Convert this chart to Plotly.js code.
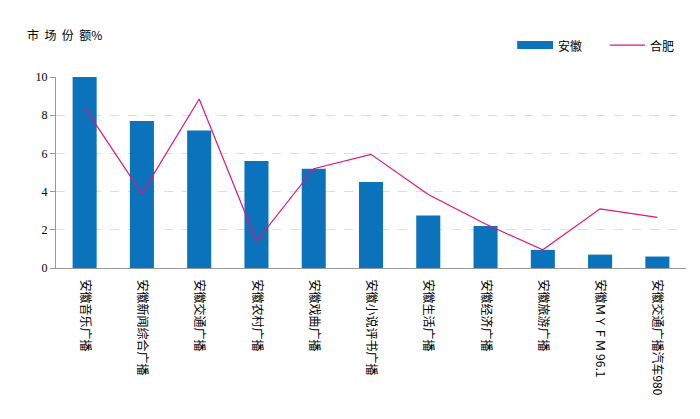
<!DOCTYPE html><html><head><meta charset="utf-8"><script src="https://cdn.plot.ly/plotly-3.0.1.min.js"></script></head><body style="margin:0"><div id="c" style="width:700px;height:419px"></div><script>
const categories=["安徽音乐广播","安徽新闻综合广播","安徽交通广播","安徽农村广播","安徽戏曲广播","安徽小说评书广播","安徽生活广播","安徽经济广播","安徽旅游广播","安徽ＭＹＦＭ 96.1","安徽交通广播汽车980"];
const anhui=[10,7.7,7.2,5.6,5.2,4.5,2.75,2.2,0.95,0.7,0.6];
const hefei=[8.4,3.9,8.85,1.4,5.2,5.95,3.85,2.3,0.95,3.1,2.65];
const f="Noto Sans CJK SC";
Plotly.newPlot("c",[
{type:"bar",x:categories,y:anhui,name:"安徽",marker:{color:"#0a73bc"},width:0.42},
{type:"scatter",mode:"lines",x:categories,y:hefei,name:"合肥",line:{color:"#e0147c",width:1.2}}
],{width:700,height:419,margin:{l:56,r:14,t:77,b:151},showlegend:false,
font:{family:f,color:"#000"},
xaxis:{tickangle:90,tickfont:{size:12,family:f},showline:true,linecolor:"#999",ticks:"",ticklabelstandoff:8,fixedrange:true},
yaxis:{range:[0,10],dtick:2,showgrid:true,gridcolor:"#ddd",griddash:"dash",showline:true,linecolor:"#999",ticks:"outside",ticklen:5,tickcolor:"#999",tickfont:{size:12,family:"Liberation Serif"},zeroline:false},
shapes:[
{type:"rect",xref:"paper",yref:"paper",x0:0.732,x1:0.789,y0:1.147,y1:1.188,fillcolor:"#0a73bc",line:{width:0}},
{type:"line",xref:"paper",yref:"paper",x0:0.879,x1:0.935,y0:1.167,y1:1.167,line:{color:"#e0147c",width:1.2}}],
annotations:[
{text:"市  场  份  额%",xref:"paper",yref:"paper",x:-0.05,y:1.22,xanchor:"left",yanchor:"middle",showarrow:false,font:{size:12,family:f}},
{text:"安徽",xref:"paper",yref:"paper",x:0.793,y:1.167,xanchor:"left",yanchor:"middle",showarrow:false,font:{size:12,family:f}},
{text:"合肥",xref:"paper",yref:"paper",x:0.94,y:1.167,xanchor:"left",yanchor:"middle",showarrow:false,font:{size:12,family:f}}],
plot_bgcolor:"#fff",paper_bgcolor:"#fff"},{displayModeBar:false});
</script></body></html>
